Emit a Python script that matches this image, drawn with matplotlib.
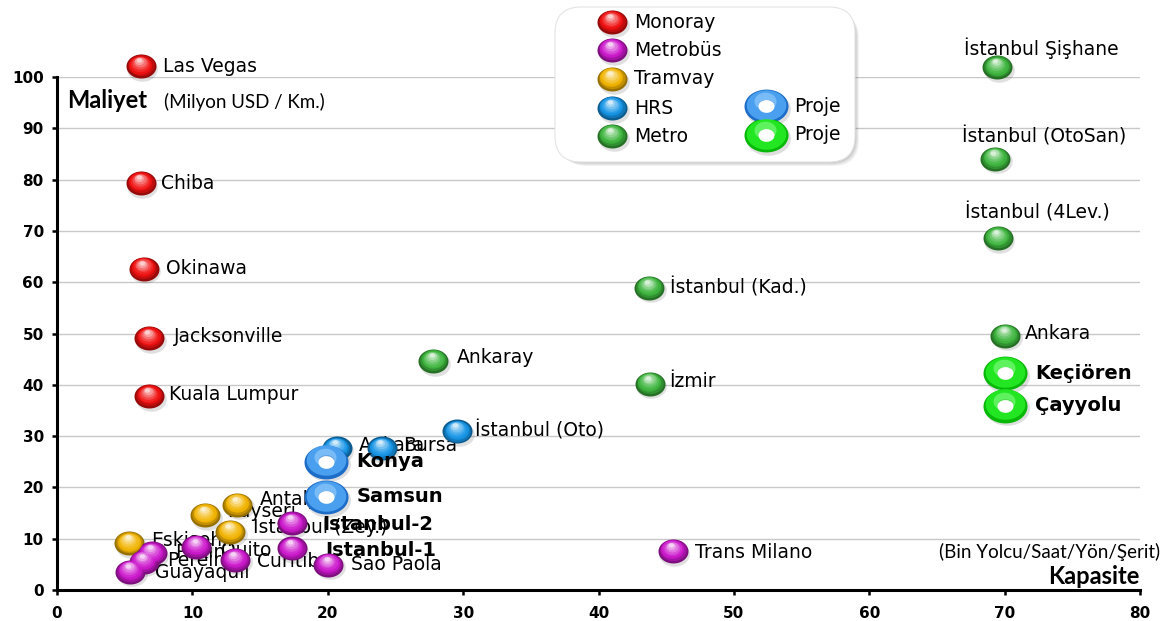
import numpy as np
import matplotlib
matplotlib.use("Agg")
import matplotlib.pyplot as plt
import matplotlib.colors as mcolors
from matplotlib.path import Path
from matplotlib.transforms import offset_copy
from matplotlib.patches import FancyBboxPatch

# ---------------- data: capacity (x) vs. cost per km (y) ----------------
mono_names = ["Las Vegas", "Chiba", "Okinawa", "Jacksonville", "Kuala Lumpur"]
mono_x = [6.2, 6.2, 6.4, 6.8, 6.8]
mono_y = [102.1, 79.3, 62.6, 49.1, 37.8]

metrobus_names = ["Istanbul-2", "Istanbul-1", "Quito", "Curitiba", "Sao Paola",
                  "Trans Milano", "Pekin", "Pereira", "Guayaquil"]
metrobus_x = [17.35, 17.35, 10.3, 13.15, 20.05, 45.5, 7.0, 6.4, 5.4]
metrobus_y = [13.0, 8.1, 8.45, 5.85, 4.9, 7.6, 7.15, 5.5, 3.6]

tram_names = ["Antalya", "Kayseri", "İstanbul (Zey.)", "Eskişehir"]
tram_x = [13.3, 10.95, 12.8, 5.35]
tram_y = [16.6, 14.6, 11.4, 9.1]

hrs_names = ["Ankara", "Bursa", "İstanbul (Oto)"]
hrs_x = [20.65, 24.0, 29.55]
hrs_y = [27.6, 27.6, 30.9]

metro_names = ["İstanbul Şişhane", "İstanbul (OtoSan)", "İstanbul (4Lev.)",
               "İstanbul (Kad.)", "Ankaray", "İzmir", "Ankara"]
metro_x = [69.45, 69.3, 69.5, 43.75, 27.8, 43.8, 70.05]
metro_y = [101.9, 84.1, 68.6, 58.9, 44.6, 40.2, 49.6]

hrs_proj_names = ["Konya", "Samsun"]
hrs_proj_x = [19.9, 19.9]
hrs_proj_y = [25.0, 18.1]

metro_proj_names = ["Keçiören", "Çayyolu"]
metro_proj_x = [70.05, 70.05]
metro_proj_y = [42.3, 35.9]

x_ticks = [0, 10, 20, 30, 40, 50, 60, 70, 80]
y_ticks = [0, 10, 20, 30, 40, 50, 60, 70, 80, 90, 100]

# ---------------- label placement (offset in pixels from the marker) ----------------
mono_off = [(22, 0), (20, 0), (22, 0), (25, 2), (20, 2)]
metrobus_off = [(30, -1), (33, -2), (25, -3), (22, -2), (23, 0), (22, -1), (23, 1), (23, 1), (25, -1)]
tram_off = [(23, 5), (22, 4), (23, 5), (22, 3)]
hrs_off = [(22, 3), (21, 3), (18, 1)]
metro_off = [(-33, 19), (-33, 22), (-33, 26), (21, 0), (24, 4), (19, 2), (20, 2)]
hrs_proj_off = [(30, 0), (30, 1)]
metro_proj_off = [(30, 0), (30, 0)]

LABEL_SIZE = 13.5
BOLD_SIZE = 14

# ---------------- colours ----------------
C_MONO = "#f01010"
C_MBUS = "#cc18cc"
C_TRAM = "#f2b400"
C_HRS = "#1595e6"
C_METRO = "#3db43d"
C_RING_HRS = ("#1c6cc8", "#4aa0ee", "#a8d6ff")
C_RING_METRO = ("#08b808", "#22e622", "#9cff9c")

W, H, DPI = 1170, 621, 100
fig = plt.figure(figsize=(W / DPI, H / DPI), dpi=DPI)
fig.patch.set_facecolor("white")

ax = fig.add_axes([57 / W, 31 / H, (1140 - 57) / W, (590 - 77) / H])
ax.set_xlim(0, 80)
ax.set_ylim(0, 100)
ax.set_xticks(x_ticks)
ax.set_yticks(y_ticks)
ax.yaxis.grid(True, color="#c8c8c8", lw=1.0)
ax.set_axisbelow(True)
for side in ("top", "right"):
    ax.spines[side].set_visible(False)
for side in ("left", "bottom"):
    ax.spines[side].set_linewidth(2.2)
    ax.spines[side].set_color("black")
ax.tick_params(axis="both", direction="out", length=3.5, width=1.8, color="black",
               labelsize=11)
ax.tick_params(axis="x", pad=8)
ax.tick_params(axis="y", pad=6)
for lab in ax.get_xticklabels() + ax.get_yticklabels():
    lab.set_fontweight("bold")
    lab.set_family("DejaVu Sans")


def ellipse_path(aspect):
    t = np.linspace(0, 2 * np.pi, 90)
    v = np.column_stack([aspect * np.cos(t), np.sin(t)])
    return Path(v, closed=True)


def ring_path(aspect, hole):
    t = np.linspace(0, 2 * np.pi, 90)
    outer = np.column_stack([aspect * np.cos(t), np.sin(t)])
    inner = np.column_stack([aspect * hole * 1.1 * np.cos(-t), hole * np.sin(-t)])
    verts = np.vstack([outer, inner])
    codes = ([Path.MOVETO] + [Path.LINETO] * (len(t) - 2) + [Path.CLOSEPOLY]) * 2
    return Path(verts, codes)


SPHERE = ellipse_path(1.25)
RING = ring_path(1.3, 0.36)


def mix(a, b, t):
    return tuple(np.array(a) * (1 - t) + np.array(b) * t)


def draw_sphere(a, x, y, color, width_px=30, z=5):
    f = a.figure
    base = np.array(mcolors.to_rgb(color))
    dark = base * 0.62
    light = base + (1 - base) * 0.8
    w_pt = width_px * 72 / f.dpi
    # soft drop shadow
    tr = offset_copy(a.transData, fig=f, x=1.5, y=-2.5, units="dots")
    a.scatter([x], [y], s=(w_pt * 1.02) ** 2, marker=SPHERE, color=(0, 0, 0, 0.12),
              linewidths=0, transform=tr, zorder=z, clip_on=False)
    n = 8
    for i in range(n):
        t = i / (n - 1)
        sc = 1 - 0.82 * t
        if t < 0.3:
            col = mix(dark, base, t / 0.3)
        else:
            col = mix(base, light, ((t - 0.3) / 0.7) ** 1.3)
        tr = offset_copy(a.transData, fig=f, x=-0.06 * width_px * t,
                         y=0.2 * width_px * t, units="dots")
        a.scatter([x], [y], s=(w_pt * sc) ** 2, marker=SPHERE, color=col,
                  linewidths=0, transform=tr, zorder=z + 0.01 * (i + 1), clip_on=False)


def draw_ring(a, x, y, colors, width_px=44, z=6):
    f = a.figure
    dark, mid, light = colors
    w_pt = width_px * 72 / f.dpi
    tr = offset_copy(a.transData, fig=f, x=1.5, y=-2.5, units="dots")
    a.scatter([x], [y], s=(w_pt * 1.02) ** 2, marker=RING, color=(0, 0, 0, 0.13),
              linewidths=0, transform=tr, zorder=z, clip_on=False)
    a.scatter([x], [y], s=w_pt ** 2, marker=RING, color=dark, linewidths=0,
              zorder=z + 0.01, clip_on=False)
    tr = offset_copy(a.transData, fig=f, x=-0.5, y=1.5, units="dots")
    a.scatter([x], [y], s=(w_pt * 0.9) ** 2, marker=RING, color=mid, linewidths=0,
              transform=tr, zorder=z + 0.02, clip_on=False)
    tr = offset_copy(a.transData, fig=f, x=-1.5, y=5.0, units="dots")
    a.scatter([x], [y], s=(w_pt * 0.5) ** 2, marker=SPHERE, color=light + "80",
              linewidths=0, transform=tr, zorder=z + 0.03, clip_on=False)
    a.scatter([x], [y], s=(w_pt * 0.36) ** 2, marker=SPHERE, color="white",
              linewidths=0, zorder=z + 0.04, clip_on=False)


def label(a, x, y, text, off, bold=False, z=4):
    a.annotate(text, (x, y), xytext=off, textcoords="offset pixels",
               ha="left", va="center", fontsize=BOLD_SIZE if bold else LABEL_SIZE,
               fontweight="bold" if bold else "normal", family="DejaVu Sans",
               color="black", zorder=z, annotation_clip=False)


groups = [
    (mono_names, mono_x, mono_y, mono_off, C_MONO),
    (tram_names, tram_x, tram_y, tram_off, C_TRAM),
    (metrobus_names, metrobus_x, metrobus_y, metrobus_off, C_MBUS),
    (metro_names, metro_x, metro_y, metro_off, C_METRO),
    (hrs_names, hrs_x, hrs_y, hrs_off, C_HRS),
]
for names, xs, ys, offs, col in groups:
    for nm, xv, yv, of in zip(names, xs, ys, offs):
        bold = nm in ("Istanbul-2", "Istanbul-1")
        label(ax, xv, yv, nm, of, bold=bold)
for names, xs, ys, offs, col in groups:
    for xv, yv in zip(xs, ys):
        draw_sphere(ax, xv, yv, col)

for nm, xv, yv, of in zip(hrs_proj_names, hrs_proj_x, hrs_proj_y, hrs_proj_off):
    draw_ring(ax, xv, yv, C_RING_HRS)
    label(ax, xv, yv, nm, of, bold=True, z=8)
for nm, xv, yv, of in zip(metro_proj_names, metro_proj_x, metro_proj_y, metro_proj_off):
    draw_ring(ax, xv, yv, C_RING_METRO)
    label(ax, xv, yv, nm, of, bold=True, z=8)

# ---------------- overlay in pixel coordinates: axis titles and legend ----------------
ov = fig.add_axes([0, 0, 1, 1], zorder=10)
ov.set_xlim(0, W)
ov.set_ylim(H, 0)
ov.axis("off")
ov.patch.set_alpha(0)

ov.text(67, 101, "Maliyet", family="Lato", fontweight="bold", fontsize=17,
        ha="left", va="center")
ov.text(164, 102, "(Milyon USD / Km.)", family="Lato", fontsize=13.5,
        ha="left", va="center")
ov.text(1160, 552, "(Bin Yolcu/Saat/Yön/Şerit)", family="Lato", fontsize=13.5,
        ha="right", va="center")
ov.text(1140, 577, "Kapasite", family="Lato", fontweight="bold", fontsize=17,
        ha="right", va="center")

# legend card with a soft shadow
for k, al in enumerate([0.05, 0.05, 0.06, 0.07]):
    sh = FancyBboxPatch((557 + 4 - k, 9 + 4 - k), 298, 153, transform=ov.transData,
                        boxstyle="round,pad=0,rounding_size=26",
                        fc=(0, 0, 0, al), ec="none", zorder=1)
    ov.add_patch(sh)
card = FancyBboxPatch((555, 7), 300, 155, transform=ov.transData,
                      boxstyle="round,pad=0,rounding_size=26",
                      fc="white", ec="#e4e4e4", lw=0.8, zorder=2)
ov.add_patch(card)

legend_items = ["Monoray", "Metrobüs", "Tramvay", "HRS", "Metro"]
legend_cols = [C_MONO, C_MBUS, C_TRAM, C_HRS, C_METRO]
legend_rows = [22, 50, 79, 108, 136]
for nm, col, yy in zip(legend_items, legend_cols, legend_rows):
    draw_sphere(ov, 612, yy, col, z=3)
    ov.text(634, yy, nm, family="DejaVu Sans", fontsize=LABEL_SIZE, ha="left",
            va="center", zorder=4)
for cols, yy in zip([C_RING_HRS, C_RING_METRO], [106, 135]):
    draw_ring(ov, 766, yy, cols, z=3)
    ov.text(794, yy, "Proje", family="DejaVu Sans", fontsize=LABEL_SIZE, ha="left",
            va="center", zorder=4)

fig.savefig("out.png", dpi=DPI, facecolor="white")
